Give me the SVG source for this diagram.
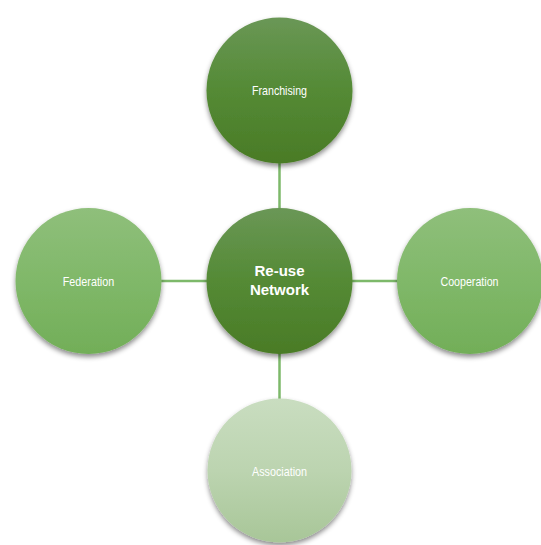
<svg xmlns="http://www.w3.org/2000/svg" width="541" height="545" viewBox="0 0 541 545">
<defs>
<linearGradient id="gDark" x1="0" y1="0" x2="0" y2="1">
<stop offset="0" stop-color="#6a9756"/>
<stop offset="0.5" stop-color="#548a35"/>
<stop offset="1" stop-color="#4a7b26"/>
</linearGradient>
<linearGradient id="gMid" x1="0" y1="0" x2="0" y2="1">
<stop offset="0" stop-color="#8fbf7b"/>
<stop offset="0.5" stop-color="#80b869"/>
<stop offset="1" stop-color="#72ae58"/>
</linearGradient>
<linearGradient id="gLight" x1="0" y1="0" x2="0" y2="1">
<stop offset="0" stop-color="#c9ddc0"/>
<stop offset="0.5" stop-color="#bcd4b0"/>
<stop offset="1" stop-color="#a8c698"/>
</linearGradient>
<filter id="sh" x="-20%" y="-20%" width="140%" height="150%">
<feDropShadow dx="0" dy="3" stdDeviation="2.5" flood-color="#000" flood-opacity="0.45"/>
</filter>
</defs>
<style>
.conn{stroke:#7db96a;stroke-width:2.5;fill:none}
.node{filter:url(#sh)}
.lbl{font-family:"Liberation Sans Narrow","Liberation Sans",Arial,sans-serif;font-size:13px;fill:#ffffff;text-anchor:middle}
.ctr{font-family:"Liberation Sans",Arial,sans-serif;font-size:15px;font-weight:bold;fill:#ffffff;text-anchor:middle}
</style>
<rect width="541" height="545" fill="#ffffff"/>
<g id="connectors">
<line class="conn" x1="279.5" y1="162" x2="279.5" y2="209"/>
<line class="conn" x1="279.5" y1="353" x2="279.5" y2="399"/>
<line class="conn" x1="160" y1="281" x2="207" y2="281"/>
<line class="conn" x1="352" y1="281" x2="398" y2="281"/>
</g>
<g id="franchising">
<circle class="node" cx="279.5" cy="90.5" r="73" fill="url(#gDark)"/>
<text class="lbl" x="279.5" y="95" textLength="55" lengthAdjust="spacingAndGlyphs">Franchising</text>
</g>
<g id="federation">
<circle class="node" cx="88.5" cy="281" r="73" fill="url(#gMid)"/>
<text class="lbl" x="88.5" y="285.5" textLength="51.5" lengthAdjust="spacingAndGlyphs">Federation</text>
</g>
<g id="cooperation">
<circle class="node" cx="470" cy="281" r="73" fill="url(#gMid)"/>
<text class="lbl" x="469.5" y="285.5" textLength="58" lengthAdjust="spacingAndGlyphs">Cooperation</text>
</g>
<g id="association">
<circle class="node" cx="279.5" cy="470.5" r="72" fill="url(#gLight)"/>
<text class="lbl" x="279.5" y="475.5" textLength="55" lengthAdjust="spacingAndGlyphs">Association</text>
</g>
<g id="reuse-network">
<circle class="node" cx="279.5" cy="281" r="73" fill="url(#gDark)"/>
<text class="ctr" x="279.5" y="276">Re-use</text>
<text class="ctr" x="279.5" y="295">Network</text>
</g>
</svg>
